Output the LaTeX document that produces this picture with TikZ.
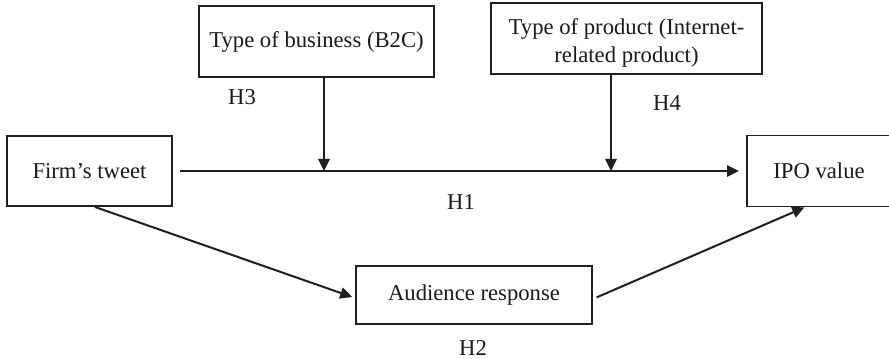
\documentclass[tikz,border=0pt]{standalone}
\usepackage{fontspec}
\setmainfont{Liberation Serif}
\usetikzlibrary{arrows.meta}
\begin{document}
\begin{tikzpicture}[x=0.75pt,y=-0.75pt,
  every node/.style={font=\fontsize{17}{20.5}\selectfont, text=black!90},
  boxnode/.style={draw=black!88, line width=1.4pt, inner sep=0pt, align=center},
  lbl/.style={inner sep=0pt},
  conn/.style={draw=black!88, line width=1.5pt, -{Triangle[length=9pt,width=8.5pt]}}
]
\useasboundingbox (0,0) rectangle (889,359);
\clip (0,0) rectangle (889,359);
\node[boxnode, minimum width=123.75pt, minimum height=52.5pt] (tweet) at (89.5,171) {Firm’s tweet};
\node[boxnode, minimum width=176.25pt, minimum height=53.25pt] (biz) at (316.5,41.5) {Type of business (B2C)};
\node[boxnode, minimum width=203.25pt, minimum height=53.25pt, font=\fontsize{17}{21.5}\selectfont] (prod) at (626.5,38.5) {\rule{0pt}{18.5pt}Type of product (Internet-\\related product)};
\node[boxnode, minimum width=108pt, minimum height=53.25pt] (ipo) at (819,171) {IPO value};
\node[boxnode, minimum width=177pt, minimum height=43.5pt] (aud) at (474,295) {Audience response};

\coordinate (m1) at (324,171);
\coordinate (m2) at (611,171);

\draw[conn, shorten <=5.25pt, shorten >=5.25pt] (tweet.east) -- (ipo.west);
\draw[conn] (biz.south -| m1) -- (m1);
\draw[conn] (prod.south -| m2) -- (m2);
\draw[conn, shorten >=2.25pt] ([xshift=4pt]tweet.south) -- ([yshift=-2.25pt]aud.west);
\draw[conn, shorten <=3pt] ([yshift=-3pt]aud.east) -- ([xshift=-11pt]ipo.south);

\node[lbl] (h3) at (242,97) {H3};
\node[lbl] (h4) at (667,103) {H4};
\node[lbl] (h1) at (461,202) {H1};
\node[lbl] (h2) at (473,348) {H2};
\end{tikzpicture}
\end{document}
